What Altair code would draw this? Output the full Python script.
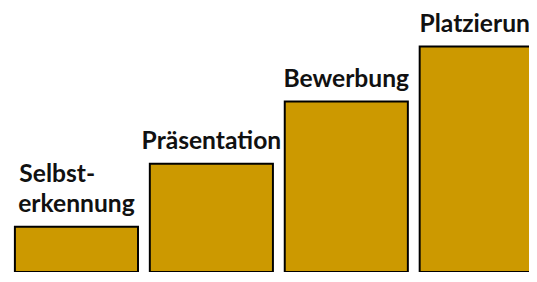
import altair as alt
import pandas as pd

stages = ["Selbsterkennung", "Präsentation", "Bewerbung", "Platzierung"]
heights = [46, 110, 173, 229]
label_main = ["erkennung", "Präsentation", "Bewerbung", "Platzierung"]
label_top = ["Selbst-", "", "", ""]

df = pd.DataFrame({"stage": stages, "h": heights, "main": label_main, "top": label_top})

x = alt.X("stage:N", sort=stages, axis=None,
          scale=alt.Scale(range=[0, 550], paddingInner=12 / 137, paddingOuter=7 / 137))
y = alt.Y("h:Q", axis=None, scale=alt.Scale(domain=[0, 266], nice=False, zero=True))

bars = alt.Chart(df).mark_bar(color="#CC9900", stroke="black", strokeWidth=2, clip=True).encode(x=x, y=y)

font = "Lato"
fs = 25
main = alt.Chart(df).mark_text(font=font, fontWeight="bold", fontSize=fs, baseline="alphabetic",
                               dy=-15, color="#111111", clip=True).encode(x=x, y=y, text="main:N")
top = alt.Chart(df).mark_text(font=font, fontWeight="bold", fontSize=fs, baseline="alphabetic",
                              align="left", dx=-58, dy=-45, color="#111111", clip=True).encode(x=x, y=y, text="top:N")

chart = alt.layer(bars, main, top).properties(
    width=529, height=266, padding=0, autosize=alt.AutoSizeParams(type="none")
).configure(background="white").configure_view(strokeWidth=0, stroke="transparent")

chart.save("out.html", embed_options={"renderer": "svg", "actions": False})
